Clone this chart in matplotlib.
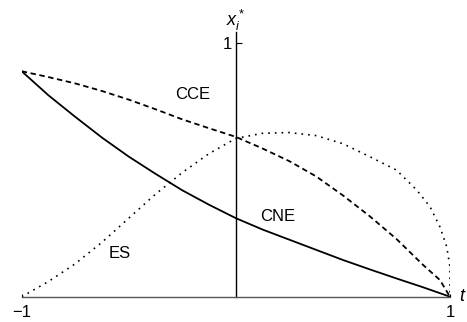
import matplotlib
matplotlib.use("Agg")
import matplotlib.pyplot as plt

plt.rcParams['font.family'] = ['Liberation Sans', 'DejaVu Sans']
plt.rcParams['mathtext.fontset'] = 'custom'
plt.rcParams['mathtext.it'] = 'Liberation Sans:italic'
plt.rcParams['mathtext.rm'] = 'Liberation Sans'

# data
t_cne = [-1, -0.875, -0.75, -0.625, -0.5, -0.375, -0.25, -0.125, 0,
         0.125, 0.25, 0.375, 0.5, 0.625, 0.75, 0.875, 1]
cne = [0.89, 0.795, 0.71, 0.628, 0.553, 0.485, 0.42, 0.363, 0.31,
       0.265, 0.225, 0.185, 0.145, 0.108, 0.072, 0.037, 0.0]

t_cce = [-1, -0.875, -0.75, -0.625, -0.5, -0.375, -0.25, -0.125, 0,
         0.125, 0.25, 0.375, 0.5, 0.625, 0.75, 0.875, 0.953, 1]
cce = [0.89, 0.867, 0.842, 0.812, 0.778, 0.74, 0.7, 0.665, 0.631,
       0.585, 0.535, 0.475, 0.4, 0.318, 0.228, 0.125, 0.066, 0.0]

t_es = [-1, -0.875, -0.75, -0.625, -0.5, -0.375, -0.25, -0.125, 0,
        0.125, 0.25, 0.375, 0.5, 0.625, 0.75, 0.845, 0.907, 0.953,
        0.985, 1.0, 1.0]
es = [0.0, 0.06, 0.13, 0.215, 0.31, 0.405, 0.49, 0.565, 0.625,
      0.645, 0.648, 0.636, 0.604, 0.553, 0.5, 0.421, 0.355, 0.276,
      0.197, 0.118, 0.0]

labels = ["CCE", "CNE", "ES"]
xticks = [-1, 1]
xticklabels = ["\u22121", "1"]
yticks = [1]
yticklabels = ["1"]

fig = plt.figure(figsize=(4.67, 3.22), dpi=100)
ax = fig.add_axes([0.0465, 0.0786, 0.917, 0.822])

ax.plot(t_cce, cce, color='black', lw=1.3, linestyle=(0, (3, 2)))
ax.plot(t_cne, cne, color='black', lw=1.3, linestyle='-')
ax.plot(t_es, es, color='black', lw=1.2, linestyle=(0, (1, 3)))

ax.set_xlim(-1, 1)
ax.set_ylim(0, 1.045)

ax.spines['top'].set_visible(False)
ax.spines['right'].set_visible(False)
ax.spines['left'].set_position(('data', 0))
ax.spines['left'].set_linewidth(1.0)
ax.spines['bottom'].set_linewidth(1.0)
ax.spines['bottom'].set_color('#555555')

ax.set_xticks(xticks)
ax.set_xticklabels(xticklabels, fontsize=12)
ax.set_yticks(yticks)
ax.set_yticklabels(yticklabels, fontsize=12)
ax.tick_params(axis='y', direction='in', length=4, width=0.8, pad=3)
ax.tick_params(axis='x', direction='in', length=2, width=0.8, pad=6)

ax.text(-0.203, 0.799, labels[0], fontsize=12, ha='center', va='center')
ax.text(0.197, 0.318, labels[1], fontsize=12, ha='center', va='center')
ax.text(-0.543, 0.169, labels[2], fontsize=12, ha='center', va='center')

ax.text(0.0, 1.09, r'$x_i^*$', fontsize=13, ha='center', va='center', clip_on=False)
ax.text(1.061, 0.0, r'$t$', fontsize=13, ha='center', va='center', clip_on=False)

fig.savefig("out.png", dpi=100)
